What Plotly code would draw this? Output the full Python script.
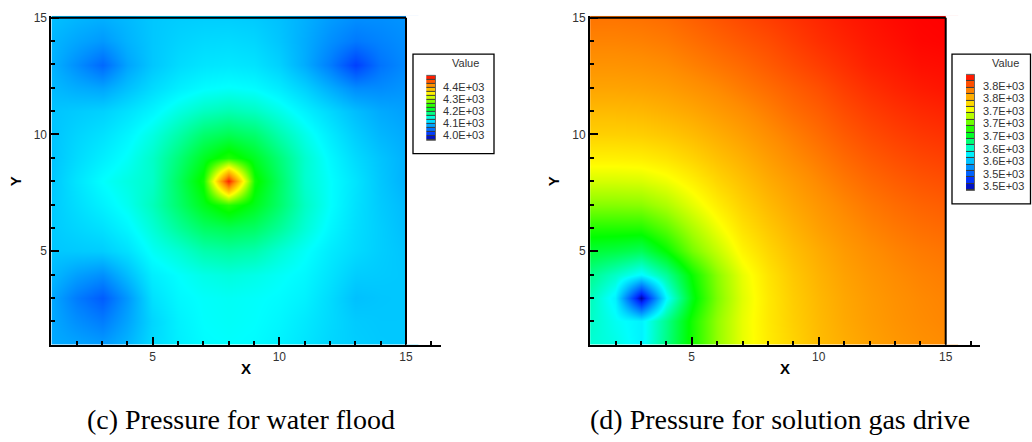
import numpy as np
import plotly.graph_objects as go

W, H = 1032, 442

# grid nodes of the 15 x 15 reservoir model
x_nodes = list(range(1, 16))
y_nodes = list(range(1, 16))

# pressure (psi) at each node, rows go from y = 1 (bottom) to y = 15 (top)
water_flood = [
    [4078, 4075, 4070, 4085, 4108, 4120, 4128, 4130, 4128, 4122, 4114, 4105, 4100, 4097, 4096],
    [4078, 4062, 4050, 4075, 4105, 4122, 4130, 4132, 4130, 4125, 4117, 4107, 4098, 4096, 4096],
    [4078, 4050, 4030, 4068, 4112, 4126, 4131, 4133, 4131, 4128, 4122, 4108, 4092, 4095, 4096],
    [4088, 4072, 4062, 4090, 4120, 4130, 4138, 4142, 4138, 4132, 4126, 4113, 4100, 4098, 4096],
    [4096, 4098, 4100, 4112, 4133, 4145, 4160, 4165, 4160, 4145, 4132, 4118, 4108, 4100, 4094],
    [4098, 4105, 4112, 4125, 4145, 4168, 4188, 4195, 4188, 4168, 4145, 4125, 4110, 4100, 4090],
    [4098, 4110, 4122, 4135, 4155, 4185, 4215, 4240, 4215, 4185, 4152, 4130, 4112, 4098, 4088],
    [4096, 4114, 4130, 4140, 4150, 4190, 4232, 4470, 4232, 4188, 4148, 4130, 4114, 4096, 4082],
    [4094, 4108, 4120, 4132, 4150, 4180, 4212, 4238, 4212, 4180, 4148, 4126, 4108, 4094, 4082],
    [4094, 4104, 4112, 4124, 4140, 4162, 4185, 4195, 4185, 4160, 4138, 4118, 4100, 4086, 4078],
    [4094, 4098, 4102, 4112, 4124, 4140, 4152, 4158, 4152, 4138, 4122, 4106, 4090, 4078, 4072],
    [4088, 4080, 4075, 4092, 4108, 4120, 4128, 4131, 4128, 4118, 4102, 4080, 4060, 4060, 4066],
    [4084, 4062, 4038, 4075, 4096, 4108, 4114, 4116, 4113, 4102, 4080, 4050, 4012, 4045, 4060],
    [4086, 4076, 4068, 4084, 4096, 4103, 4107, 4108, 4105, 4095, 4080, 4062, 4048, 4055, 4062],
    [4092, 4086, 4082, 4088, 4096, 4099, 4100, 4100, 4098, 4092, 4082, 4070, 4062, 4062, 4065],
]

gas_drive = [
    [3612, 3608, 3598, 3630, 3665, 3695, 3718, 3732, 3742, 3752, 3758, 3763, 3767, 3770, 3772],
    [3615, 3605, 3598, 3628, 3665, 3695, 3718, 3733, 3744, 3753, 3760, 3765, 3769, 3772, 3774],
    [3618, 3598, 3502, 3600, 3655, 3690, 3716, 3733, 3745, 3754, 3761, 3766, 3770, 3773, 3775],
    [3628, 3615, 3600, 3625, 3662, 3693, 3718, 3735, 3747, 3756, 3763, 3768, 3772, 3775, 3777],
    [3648, 3645, 3640, 3660, 3688, 3708, 3728, 3741, 3751, 3759, 3766, 3771, 3775, 3778, 3780],
    [3668, 3668, 3668, 3682, 3702, 3720, 3736, 3747, 3756, 3764, 3770, 3775, 3779, 3782, 3784],
    [3692, 3692, 3693, 3702, 3717, 3731, 3743, 3753, 3761, 3768, 3774, 3779, 3783, 3786, 3788],
    [3713, 3713, 3714, 3720, 3730, 3741, 3750, 3759, 3766, 3773, 3779, 3784, 3788, 3791, 3793],
    [3730, 3730, 3731, 3735, 3742, 3750, 3757, 3765, 3772, 3778, 3784, 3789, 3793, 3796, 3798],
    [3743, 3743, 3744, 3747, 3752, 3758, 3764, 3771, 3777, 3783, 3789, 3794, 3798, 3801, 3803],
    [3753, 3753, 3754, 3757, 3761, 3766, 3771, 3777, 3783, 3788, 3794, 3799, 3803, 3806, 3808],
    [3762, 3762, 3763, 3765, 3769, 3773, 3778, 3783, 3788, 3793, 3799, 3804, 3808, 3811, 3813],
    [3769, 3769, 3770, 3772, 3776, 3780, 3784, 3789, 3794, 3799, 3804, 3809, 3812, 3815, 3816],
    [3775, 3775, 3776, 3778, 3782, 3786, 3790, 3794, 3799, 3804, 3808, 3812, 3815, 3818, 3819],
    [3780, 3780, 3781, 3783, 3787, 3791, 3795, 3799, 3803, 3807, 3811, 3814, 3817, 3819, 3820],
]

# contour legend scales: value range and number of colour bands
wf_range = (3960, 4490)
wf_bands = 16
wf_label_vals = [4000, 4100, 4200, 4300, 4400]
wf_label_text = ["4.0E+03", "4.1E+03", "4.2E+03", "4.3E+03", "4.4E+03"]

gd_range = (3500, 3820)
gd_bands = 18
gd_label_vals = [3510, 3545, 3580, 3615, 3650, 3685, 3720, 3755, 3790]
gd_label_text = ["3.5E+03", "3.5E+03", "3.6E+03", "3.6E+03", "3.7E+03",
                 "3.7E+03", "3.7E+03", "3.8E+03", "3.8E+03"]

captions = ["(c) Pressure for water flood", "(d) Pressure for solution gas drive"]

rainbow = [
    [0.00, "rgb(0,0,160)"],
    [0.07, "rgb(0,40,255)"],
    [0.20, "rgb(0,150,255)"],
    [0.32, "rgb(0,255,255)"],
    [0.50, "rgb(0,255,0)"],
    [0.62, "rgb(160,255,0)"],
    [0.70, "rgb(255,255,0)"],
    [0.85, "rgb(255,140,0)"],
    [1.00, "rgb(255,0,0)"],
]


def fx(px):
    return px / W


def fy(py):
    return 1 - py / H


SANS = "Liberation Sans, Arial, sans-serif"
TICK_FONT = dict(family=SANS, size=12, color="#333")

# y axis: value 1 sits at 345 px, value 15 at 13 px; the range runs 2 px past 15
y_unit = (345 - 13) / 14.0
y_max = 15 + 2 / y_unit
panels = [
    dict(x_px=(51.4, 440.7), x_end=16.37, z=water_flood, rng=wf_range,
         leg_sw=(417, 435, 72, 137), leg_box=(413, 494, 50, 151), leg_title=(465, 59),
         bands=wf_bands, lv=wf_label_vals, lt=wf_label_text, std=7,
         xt=(246, 369), yt=(15, 179), cap=(241, 421)),
    dict(x_px=(590.1, 980.0), x_end=16.35, z=gas_drive, rng=gd_range,
         leg_sw=(957, 974, 71, 188), leg_box=(952, 1030.5, 50, 202), leg_title=(1005, 59),
         bands=gd_bands, lv=gd_label_vals, lt=gd_label_text, std=8,
         xt=(785, 369), yt=(553, 179), cap=(780, 421)),
]

fig = go.Figure()
layout = dict(
    width=W, height=H, margin=dict(l=0, r=0, t=0, b=0),
    paper_bgcolor="white", plot_bgcolor="rgba(0,0,0,0)", showlegend=False,
    hovermode=False,
)
shapes, annotations = [], []

for i, p in enumerate(panels):
    n = i + 1
    xa, ya = f"x{'' if n == 1 else n}", f"y{'' if n == 1 else n}"
    xk, yk = f"xaxis{'' if n == 1 else n}", f"yaxis{'' if n == 1 else n}"

    fig.add_trace(go.Heatmap(
        x=x_nodes, y=y_nodes, z=p["z"], zmin=p["rng"][0], zmax=p["rng"][1],
        colorscale=rainbow, zsmooth="best", showscale=False,
        xaxis=xa, yaxis=ya, hoverinfo="skip",
    ))

    axis_common = dict(
        showline=True, linecolor="black", linewidth=2,
        ticks="inside", ticklen=8, tickwidth=2, tickcolor="black",
        tick0=0, dtick=5, showgrid=False, zeroline=False,
        tickfont=TICK_FONT, fixedrange=True,
        minor=dict(ticks="inside", dtick=1, tick0=0, ticklen=4, tickwidth=1.5,
                   tickcolor="black", showgrid=False),
    )
    layout[xk] = dict(axis_common, domain=[fx(p["x_px"][0]), fx(p["x_px"][1])],
                      range=[1, p["x_end"]], anchor=ya)
    layout[yk] = dict(axis_common, domain=[fy(345), fy(11)],
                      range=[1, y_max], anchor=xa)

    # blank the half cell the heatmap draws past x = 15, then frame the zone
    shapes.append(dict(type="rect", xref=xa, yref=ya, x0=15, x1=15.8, y0=0.9, y1=15.5,
                       fillcolor="white", line=dict(width=0), layer="above"))
    shapes.append(dict(type="line", xref=xa, yref=ya, x0=1, x1=15, y0=15, y1=15,
                       line=dict(color="black", width=2), layer="above"))
    shapes.append(dict(type="line", xref=xa, yref=ya, x0=15, x1=15, y0=1, y1=15,
                       line=dict(color="black", width=2), layer="above"))

    # contour legend built as a banded heatmap on its own small axes
    m = n + 2
    lxa, lya = f"x{m}", f"y{m}"
    lo, hi = p["rng"]
    edges = np.linspace(lo, hi, p["bands"] + 1)
    mids = (edges[:-1] + edges[1:]) / 2
    fig.add_trace(go.Heatmap(
        x=[0, 1], y=edges, z=[[v] for v in mids], zmin=lo, zmax=hi,
        colorscale=rainbow, showscale=False, ygap=1,
        xaxis=lxa, yaxis=lya, hoverinfo="skip",
    ))
    sx0, sx1, sy0, sy1 = p["leg_sw"]
    layout[f"xaxis{m}"] = dict(domain=[fx(sx0), fx(sx1)], range=[0, 1], anchor=lya,
                               visible=False, fixedrange=True)
    layout[f"yaxis{m}"] = dict(domain=[fy(sy1), fy(sy0)], range=[lo, hi], anchor=lxa,
                               side="right", ticks="", showline=False, showgrid=False,
                               zeroline=False, tickvals=p["lv"], ticktext=p["lt"],
                               ticklabelstandoff=p["std"], fixedrange=True,
                               tickfont=dict(family=SANS, size=11, color="#333"))
    shapes.append(dict(type="rect", xref="paper", yref="paper",
                       x0=fx(sx0 - 0.5), x1=fx(sx1 + 0.5), y0=fy(sy1 + 0.5), y1=fy(sy0 - 0.5),
                       fillcolor="#3a3a3a", line=dict(color="#666", width=1), layer="below"))
    bx0, bx1, by0, by1 = p["leg_box"]
    shapes.append(dict(type="rect", xref="paper", yref="paper",
                       x0=fx(bx0), x1=fx(bx1), y0=fy(by1), y1=fy(by0),
                       fillcolor="rgba(0,0,0,0)", line=dict(color="black", width=1.3)))
    annotations.append(dict(text="Value", xref="paper", yref="paper",
                            x=fx(p["leg_title"][0]), y=fy(p["leg_title"][1]),
                            xanchor="center", yanchor="middle", showarrow=False,
                            font=dict(family=SANS, size=11, color="#333")))

    # axis titles
    annotations.append(dict(text="<b>X</b>", xref="paper", yref="paper",
                            x=fx(p["xt"][0]), y=fy(p["xt"][1]), xanchor="center",
                            yanchor="middle", showarrow=False,
                            font=dict(family=SANS, size=15, color="black")))
    annotations.append(dict(text="<b>Y</b>", xref="paper", yref="paper",
                            x=fx(p["yt"][0]), y=fy(p["yt"][1]), xanchor="center",
                            yanchor="middle", showarrow=False, textangle=-90,
                            font=dict(family=SANS, size=15, color="black")))
    # caption
    annotations.append(dict(text=captions[i], xref="paper", yref="paper",
                            x=fx(p["cap"][0]), y=fy(p["cap"][1]), xanchor="center",
                            yanchor="middle", showarrow=False,
                            font=dict(family="Liberation Serif, serif", size=28,
                                      color="black")))

layout["shapes"] = shapes
layout["annotations"] = annotations
fig.update_layout(**layout)
fig.write_html("out.html")
